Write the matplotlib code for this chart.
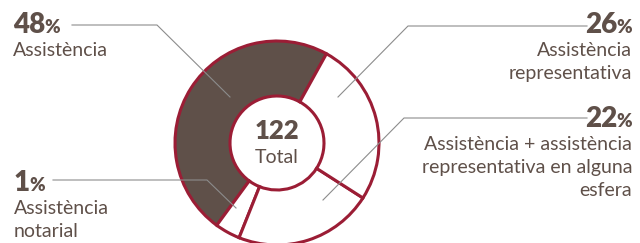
import matplotlib
matplotlib.use("Agg")
import matplotlib.pyplot as plt

# data
pct_labels = [48, 1, 22, 26]
shares = [48, 4, 22, 26]          # slice sizes as drawn (notarial slice is wider than its 1% label)
names = ["Assistència", "Assistència\nnotarial",
         "Assistència + assistència\nrepresentativa en alguna\nesfera",
         "Assistència\nrepresentativa"]
total = 122

brown = "#5f5049"
red = "#9b1d35"
txt = "#5f5049"
grey = "#8c8c8c"

plt.rcParams['font.family'] = ['Lato', 'DejaVu Sans']

fig = plt.figure(figsize=(6.4, 2.43), dpi=100)
ax = fig.add_axes([0, 0, 1, 1])

cx, cy, r_out, r_in = 277, 143, 102, 47
ax.pie(shares, colors=[brown, "white", "white", "white"],
       startangle=-61, counterclock=False, radius=r_out, center=(cx, cy),
       wedgeprops=dict(width=r_out - r_in, edgecolor=red, linewidth=2.2))

ax.set_xlim(0, 640)
ax.set_ylim(243, 0)
ax.set_aspect('equal')
ax.axis('off')

# centre
ax.text(cx, 139, str(total), ha='center', va='baseline', fontsize=18.5,
        fontweight='heavy', color=txt)
ax.text(cx, 163, "Total", ha='center', va='baseline', fontsize=14, color=txt)

# leader lines (pixel coords)
leaders = [
    [(72, 25), (157, 25), (230, 97)],
    [(53, 180), (207, 180), (236, 208)],
    [(587, 118), (404, 118), (323, 200)],
    [(587, 26), (408, 26), (338, 97)],
]
for pts in leaders:
    xs = [p[0] for p in pts]
    ys = [p[1] for p in pts]
    ax.plot(xs, ys, color=grey, lw=0.8)

fig.canvas.draw()
rend = fig.canvas.get_renderer()

# (x, baseline of number, align)
spots = [(13, 33, 'left'), (14, 191, 'left'), (632, 127, 'right'), (632, 33, 'right')]
for (x, yb, side), p, name in zip(spots, pct_labels, names):
    if side == 'left':
        t = ax.text(x, yb, str(p), ha='left', va='baseline', fontsize=20,
                    fontweight='heavy', color=txt)
        w = t.get_window_extent(rend).width
        ax.text(x + w - 1, yb, "%", ha='left', va='baseline', fontsize=13.5,
                fontweight='heavy', color=txt)
    else:
        t = ax.text(x, yb, "%", ha='right', va='baseline', fontsize=13.5,
                    fontweight='heavy', color=txt)
        w = t.get_window_extent(rend).width
        ax.text(x - w + 1, yb, str(p), ha='right', va='baseline', fontsize=20,
                fontweight='heavy', color=txt)
    for i, line in enumerate(name.split("\n")):
        ax.text(x, yb + 23 * (i + 1), line, ha=side, va='baseline',
                fontsize=14, color=txt)

fig.savefig("out.png", dpi=100)
